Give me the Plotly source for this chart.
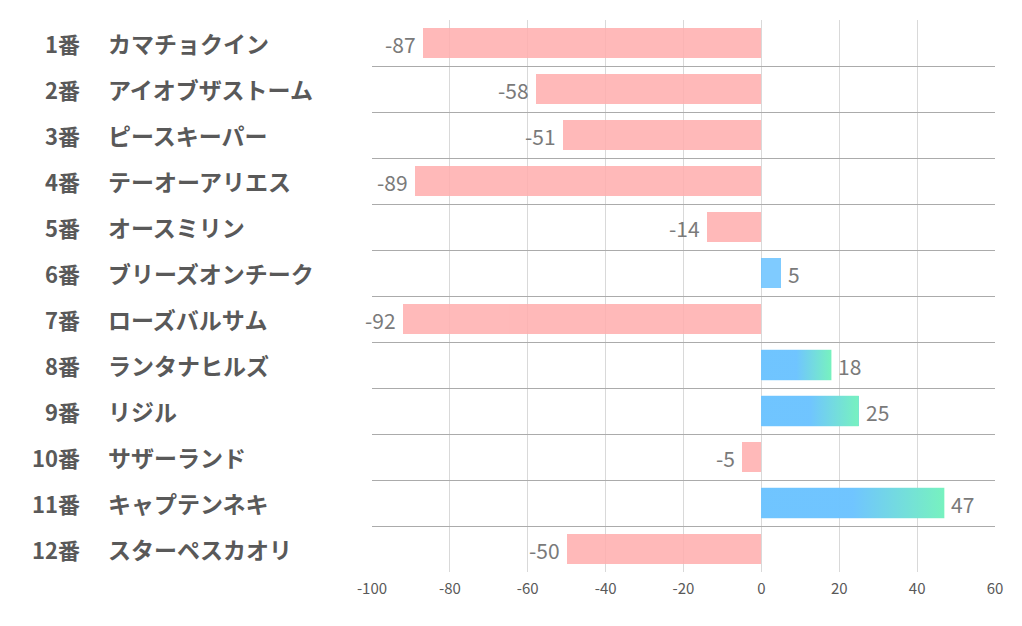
import plotly.graph_objects as go

numbers = ["1番", "2番", "3番", "4番", "5番", "6番", "7番", "8番", "9番", "10番", "11番", "12番"]
names = ["カマチョクイン", "アイオブザストーム", "ピースキーパー", "テーオーアリエス", "オースミリン",
         "ブリーズオンチーク", "ローズバルサム", "ランタナヒルズ", "リジル", "サザーランド",
         "キャプテンネキ", "スターペスカオリ"]
values = [-87, -58, -51, -89, -14, 5, -92, 18, 25, -5, 47, -50]
x_ticks = [-100, -80, -60, -40, -20, 0, 20, 40, 60]

PINK = "rgb(255,176,176)"
BLUE = "rgb(110,196,255)"
GREEN = "rgb(118,246,184)"
BAR_W = 0.66
FONT = "Noto Sans CJK JP"

idx = list(range(len(values)))
fig = go.Figure()
fig.add_trace(go.Bar(
    x=values, y=idx, orientation="h", width=BAR_W,
    marker=dict(color=[PINK if v < 0 else BLUE for v in values], line=dict(width=0)),
    opacity=0.88, hoverinfo="skip",
))

# gradient overlays for the longer positive bars
for i, v in enumerate(values):
    if v >= 10:
        fig.add_trace(go.Scatter(
            x=[0, v, v, 0, 0],
            y=[i - BAR_W / 2, i - BAR_W / 2, i + BAR_W / 2, i + BAR_W / 2, i - BAR_W / 2],
            mode="lines", line=dict(width=0), fill="toself",
            fillgradient=dict(type="horizontal",
                              colorscale=[[0, BLUE], [0.5, BLUE], [1, GREEN]]),
            opacity=0.9, hoverinfo="skip", showlegend=False,
        ))

# value labels
for i, v in enumerate(values):
    fig.add_annotation(x=v, y=i, xref="x", yref="y", text=str(v), showarrow=False,
                       xanchor="right" if v < 0 else "left", yanchor="middle",
                       xshift=-5 if v < 0 else 5, yshift=-1,
                       font=dict(family=FONT, size=21, color="#7a7a7a"))

# row labels
for i, (num, nm) in enumerate(zip(numbers, names)):
    fig.add_annotation(x=-0.465, y=i, xref="paper", yref="y", text=num, showarrow=False,
                       xanchor="right", yanchor="middle",
                       font=dict(family=FONT, size=22, color="#595959", weight="bold"))
    fig.add_annotation(x=-0.427, y=i, xref="paper", yref="y", text=nm, showarrow=False,
                       xanchor="left", yanchor="middle",
                       font=dict(family=FONT, size=23, color="#595959", weight="bold"))

fig.update_layout(
    width=1022, height=626,
    margin=dict(l=364, r=35, t=12, b=62),
    paper_bgcolor="white", plot_bgcolor="white",
    showlegend=False, bargap=0,
    xaxis=dict(range=[-100, 60], tickvals=x_ticks, ticktext=[str(t) for t in x_ticks],
               showgrid=True, gridcolor="#d9d9d9", gridwidth=1,
               zeroline=False, showline=False, ticks="",
               tickfont=dict(family=FONT, size=15, color="#595959"),
               ticklabelstandoff=6, fixedrange=True),
    yaxis=dict(range=[11.5, -0.5], tickvals=[k - 0.5 for k in range(len(values) + 1)],
               showticklabels=False, showgrid=True, gridcolor="#ababab", gridwidth=1,
               zeroline=False, showline=False, ticks="", fixedrange=True),
)

fig.write_html("out.html")
